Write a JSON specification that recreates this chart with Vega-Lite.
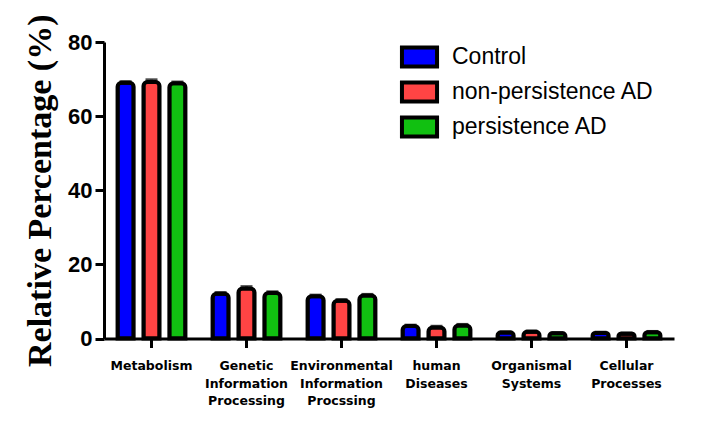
{
  "$schema": "https://vega.github.io/schema/vega-lite/v6.json",
  "width": 570,
  "height": 296.5,
  "autosize": {"type": "none"},
  "padding": {"left": 104, "top": 42, "right": 44, "bottom": 90.5},
  "background": "white",
  "config": {"view": {"stroke": null}},
  "data": {
    "values": [
      {"category": "Metabolism", "group": "Control", "value": 69.0, "hi": 69.3},
      {"category": "Metabolism", "group": "non-persistence AD", "value": 69.2, "hi": 69.8},
      {"category": "Metabolism", "group": "persistence AD", "value": 68.9, "hi": 69.2},
      {"category": "Genetic Information Processing", "group": "Control", "value": 12.1, "hi": 12.4},
      {"category": "Genetic Information Processing", "group": "non-persistence AD", "value": 13.5, "hi": 14.0},
      {"category": "Genetic Information Processing", "group": "persistence AD", "value": 12.3, "hi": 12.6},
      {"category": "Environmental Information Procssing", "group": "Control", "value": 11.4, "hi": 11.7},
      {"category": "Environmental Information Procssing", "group": "non-persistence AD", "value": 10.2, "hi": 10.5},
      {"category": "Environmental Information Procssing", "group": "persistence AD", "value": 11.6, "hi": 11.9},
      {"category": "human Diseases", "group": "Control", "value": 3.4, "hi": 3.6},
      {"category": "human Diseases", "group": "non-persistence AD", "value": 3.0, "hi": 3.3},
      {"category": "human Diseases", "group": "persistence AD", "value": 3.5, "hi": 3.8},
      {"category": "Organismal Systems", "group": "Control", "value": 1.6, "hi": 1.8},
      {"category": "Organismal Systems", "group": "non-persistence AD", "value": 1.8, "hi": 2.0},
      {"category": "Organismal Systems", "group": "persistence AD", "value": 1.4, "hi": 1.6},
      {"category": "Cellular Processes", "group": "Control", "value": 1.5, "hi": 1.7},
      {"category": "Cellular Processes", "group": "non-persistence AD", "value": 1.3, "hi": 1.5},
      {"category": "Cellular Processes", "group": "persistence AD", "value": 1.7, "hi": 1.9}
    ]
  },
  "encoding": {
    "x": {
      "field": "category",
      "type": "nominal",
      "sort": ["Metabolism", "Genetic Information Processing", "Environmental Information Procssing", "human Diseases", "Organismal Systems", "Cellular Processes"],
      "scale": {"paddingInner": 0.182, "paddingOuter": 0.091},
      "axis": {
        "title": null,
        "labelAngle": 0,
        "labelExpr": "split(datum.label, ' ')",
        "labelFont": "DejaVu Sans",
        "labelFontWeight": "bold",
        "labelFontSize": 12.5,
        "labelLineHeight": 17.5,
        "labelColor": "black",
        "labelPadding": 12,
        "domainColor": "black",
        "domainWidth": 3,
        "tickColor": "black",
        "tickWidth": 3,
        "tickSize": 9
      }
    },
    "xOffset": {
      "field": "group",
      "type": "nominal",
      "sort": ["Control", "non-persistence AD", "persistence AD"],
      "scale": {"paddingInner": 0.38, "paddingOuter": 0.19}
    }
  },
  "layer": [
    {
      "mark": {"type": "bar", "stroke": "black", "strokeWidth": 4, "cornerRadiusTopLeft": 4, "cornerRadiusTopRight": 4},
      "encoding": {
        "y": {
          "field": "value",
          "type": "quantitative",
          "scale": {"domain": [0, 80], "nice": false},
          "axis": {
            "values": [0, 20, 40, 60, 80],
            "grid": false,
            "title": "Relative Percentage (%)",
            "titleFont": "Liberation Serif",
            "titleFontSize": 34,
            "titleFontWeight": "bold",
            "titleColor": "black",
            "titlePadding": 10,
            "labelFont": "Liberation Sans",
            "labelFontWeight": "bold",
            "labelFontSize": 22,
            "labelColor": "black",
            "labelPadding": 3,
            "domainColor": "black",
            "domainWidth": 3,
            "tickColor": "black",
            "tickWidth": 3,
            "tickSize": 9
          }
        },
        "fill": {
          "field": "group",
          "type": "nominal",
          "scale": {"domain": ["Control", "non-persistence AD", "persistence AD"], "range": ["#0000ff", "#ff4444", "#11c011"]},
          "legend": {
            "title": null,
            "orient": "none",
            "legendX": 298.5,
            "legendY": -2,
            "padding": 0,
            "symbolType": "M-1.17,-0.64L1.17,-0.64L1.17,0.64L-1.17,0.64Z",
            "symbolSize": 900,
            "symbolStrokeColor": "black",
            "symbolStrokeWidth": 4,
            "symbolOpacity": 1,
            "labelFont": "Liberation Sans",
            "labelFontSize": 23,
            "labelColor": "black",
            "labelOffset": 15.5,
            "rowPadding": -2,
            "labelLimit": 400
          }
        }
      }
    },
    {
      "mark": {"type": "rule", "color": "black", "strokeWidth": 3},
      "encoding": {
        "y": {"field": "value", "type": "quantitative"},
        "y2": {"field": "hi"}
      }
    },
    {
      "mark": {"type": "tick", "color": "black", "thickness": 3, "size": 12},
      "encoding": {
        "y": {"field": "hi", "type": "quantitative"}
      }
    }
  ]
}
